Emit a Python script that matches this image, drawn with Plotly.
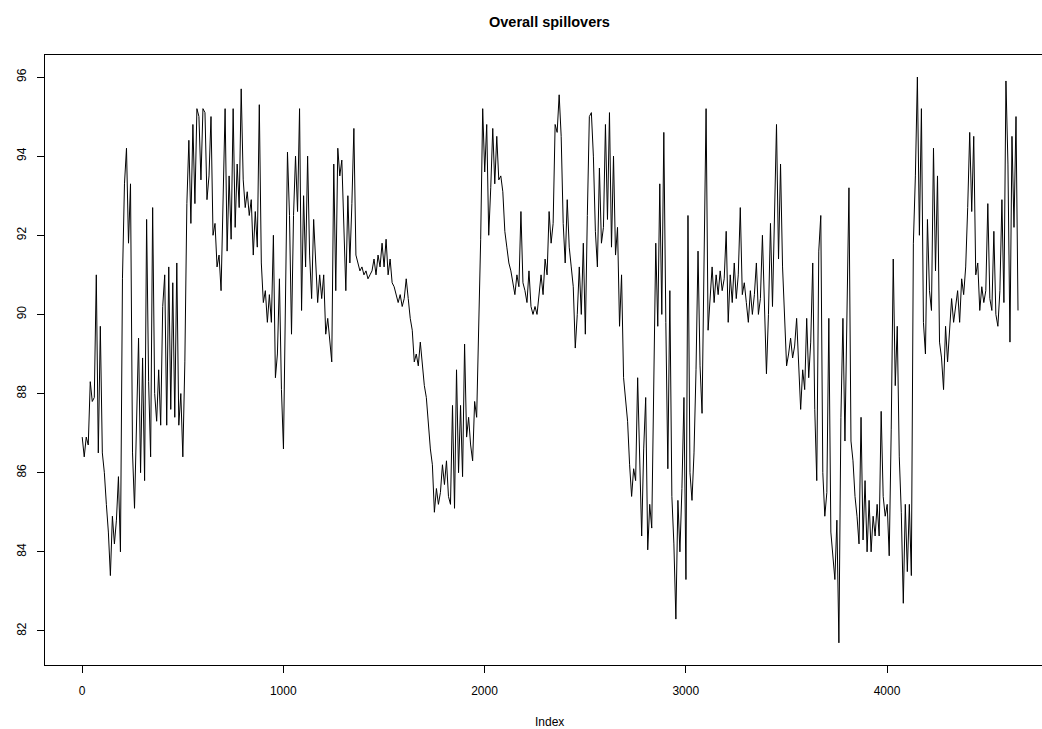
import numpy as np
import plotly.graph_objects as go

spill_0_990 = [
    86.9, 86.4, 86.9, 86.7, 88.3, 87.8, 87.9, 91.0, 86.5, 89.7,
    86.5, 86.0, 85.2, 84.5, 83.4, 84.9, 84.2, 84.8, 85.9, 84.0,
    90.9, 93.3, 94.2, 91.8, 93.3, 86.5, 85.1, 87.5, 89.4, 86.0,
    88.9, 85.8, 92.4, 88.3, 86.4, 92.7, 88.0, 87.3, 88.6, 87.2,
    90.2, 91.0, 87.2, 91.2, 87.6, 90.8, 87.4, 91.3, 87.2, 88.0,
    86.4, 88.8, 92.8, 94.4, 92.3, 94.8, 92.8, 95.2, 95.0, 93.4,
    95.2, 95.1, 92.9, 93.5, 95.0, 92.0, 92.3, 91.2, 91.5, 90.6,
    93.0, 95.2, 91.6, 93.5, 91.9, 95.2, 92.2, 93.8, 92.7, 95.7,
    93.4, 92.7, 93.1, 92.5, 92.9, 91.5, 92.6, 91.7, 95.3, 91.3,
    90.3, 90.6, 89.8, 90.5, 89.8, 92.0, 88.4, 89.0, 90.9, 88.1,
]
spill_1000_1990 = [
    86.6, 89.9, 94.1, 92.5, 89.5, 92.5, 94.0, 92.6, 95.2, 90.1,
    93.0, 91.2, 94.0, 91.5, 90.4, 92.4, 91.2, 90.3, 91.0, 90.4,
    91.0, 89.5, 89.9, 89.3, 88.8, 93.8, 90.6, 94.2, 93.5, 93.9,
    92.0, 90.6, 93.0, 91.3, 92.8, 94.7, 91.5, 91.3, 91.1, 91.2,
    91.0, 91.1, 90.9, 91.0, 91.1, 91.4, 91.0, 91.5, 91.2, 91.8,
    91.2, 91.9, 91.0, 91.4, 90.8, 90.7, 90.5, 90.3, 90.5, 90.2,
    90.4, 90.9, 90.4, 89.9, 89.6, 88.8, 89.0, 88.7, 89.3, 88.8,
    88.2, 87.9, 87.2, 86.6, 86.2, 85.0, 85.6, 85.2, 85.5, 86.2,
    85.7, 86.3, 85.4, 85.2, 87.7, 85.1, 88.6, 86.0, 87.7, 85.9,
    89.25, 86.9, 87.4, 86.7, 86.3, 87.8, 87.4, 89.3, 91.9, 95.2,
]
spill_2000_2990 = [
    93.6, 94.8, 92.0, 93.2, 94.7, 93.3, 94.5, 93.4, 93.5, 93.1,
    92.1, 91.7, 91.3, 91.1, 90.8, 90.5, 91.0, 90.7, 92.6, 90.8,
    90.6, 90.3, 91.1, 90.2, 90.0, 90.2, 90.0, 90.5, 91.0, 90.5,
    91.4, 91.0, 92.6, 91.8, 92.3, 94.8, 94.6, 95.55, 94.5, 92.3,
    91.3, 92.9, 91.7, 91.2, 90.7, 89.15, 90.0, 91.2, 90.0, 91.8,
    89.5, 92.5, 95.0, 95.1, 94.0, 92.1, 91.2, 93.7, 91.8, 92.2,
    94.8, 92.4, 95.1, 91.7, 94.0, 91.5, 92.2, 89.7, 91.0, 88.4,
    87.9, 87.3, 86.2, 85.4, 86.1, 85.8, 88.4, 86.0, 84.4, 86.6,
    87.9, 84.05, 85.2, 84.6, 87.7, 91.8, 89.7, 93.3, 90.0, 94.6,
    89.8, 86.1, 90.6, 85.4, 84.2, 82.3, 85.3, 84.0, 85.6, 87.9,
]
spill_3000_3990 = [
    83.3, 92.5, 86.0, 85.3, 86.5, 88.6, 91.6, 88.7, 87.5, 91.4,
    95.2, 89.6, 90.4, 91.2, 90.3, 91.0, 90.5, 91.1, 90.6, 90.9,
    92.1, 89.8, 91.0, 90.3, 91.3, 90.4, 91.0, 92.7, 90.5, 90.8,
    90.3, 89.8, 90.6, 90.0, 90.5, 91.3, 90.0, 90.4, 92.0, 90.1,
    88.5, 90.0, 92.3, 90.2, 92.3, 94.8, 91.4, 93.8, 91.2, 89.7,
    88.7, 89.0, 89.4, 88.9, 89.2, 89.9, 88.8, 87.6, 88.6, 88.1,
    89.9, 88.4, 89.3, 91.3, 87.6, 85.8, 91.6, 92.5, 86.0, 84.9,
    85.5, 89.9, 84.5, 83.8, 83.3, 84.8, 81.7, 87.4, 89.9, 86.8,
    90.2, 93.2, 86.8, 86.3, 85.4, 84.9, 84.2, 87.4, 84.3, 85.8,
    84.0, 85.3, 84.0, 84.9, 84.4, 85.2, 84.4, 87.55, 85.4, 84.9,
]
spill_4000_end = [
    85.2, 83.9, 87.1, 91.4, 88.2, 89.7, 86.4, 85.0, 82.7, 85.2,
    83.5, 85.2, 83.4, 91.8, 93.5, 96.0, 92.0, 95.2, 89.8, 89.0,
    92.4, 90.6, 90.1, 94.2, 91.1, 93.5, 89.3, 88.9, 88.1, 89.7,
    88.8, 89.6, 90.4, 89.8, 90.2, 90.6, 89.8, 90.9, 90.5, 91.2,
    92.7, 94.6, 92.6, 94.5, 91.0, 91.3, 90.1, 90.7, 90.3, 90.6,
    92.8, 90.4, 90.1, 92.1, 90.0, 89.7, 90.6, 92.9, 90.3, 95.9,
    93.8, 89.3, 94.5, 92.2, 95.0, 90.1,
]

values = spill_0_990 + spill_1000_1990 + spill_2000_2990 + spill_3000_3990 + spill_4000_end
index = 1 + 10 * np.arange(len(values))

x_ticks = [0, 1000, 2000, 3000, 4000]
y_ticks = [82, 84, 86, 88, 90, 92, 94, 96]

W, H = 1042, 729
L, R, T, B = 45, 0, 55, 64
FONT = "Liberation Sans, Arial, sans-serif"

fig = go.Figure()
fig.add_trace(go.Scatter(x=index, y=values, mode="lines",
                         line=dict(color="black", width=1), hoverinfo="skip"))

fig.update_layout(
    width=W, height=H,
    margin=dict(l=L, r=R, t=T, b=B, pad=0),
    paper_bgcolor="white", plot_bgcolor="white",
    showlegend=False,
    font=dict(family=FONT, size=12, color="black"),
)
fig.update_xaxes(
    range=[-183.9, 4770.2], tickvals=x_ticks, ticktext=[str(v) for v in x_ticks],
    showgrid=False, zeroline=False, showline=True, mirror=True,
    linecolor="black", linewidth=1, ticks="outside", ticklen=7,
    tickcolor="black", tickwidth=1, ticklabelstandoff=8,
    tickfont=dict(family=FONT, size=12, color="black"),
)
fig.update_yaxes(
    range=[81.14, 96.556], tickvals=y_ticks, ticktext=[str(v) for v in y_ticks],
    showgrid=False, zeroline=False, showline=True, mirror=False,
    linecolor="black", linewidth=1, ticks="outside", ticklen=7,
    tickcolor="black", tickwidth=1, tickangle=-90, ticklabelstandoff=6,
    tickfont=dict(family=FONT, size=12, color="black"),
)

plot_w = W - L - R
plot_h = H - T - B
cx = (549.5 - L) / plot_w
fig.add_annotation(text="<b>Overall spillovers</b>", xref="paper", yref="paper",
                   x=cx, y=(H - B - 22) / plot_h, xanchor="center", yanchor="middle",
                   showarrow=False, font=dict(family=FONT, size=14.5, color="black"))
fig.add_annotation(text="Index", xref="paper", yref="paper",
                   x=cx, y=(H - B - 722) / plot_h, xanchor="center", yanchor="middle",
                   showarrow=False, font=dict(family=FONT, size=12, color="black"))

fig.write_html("out.html")
